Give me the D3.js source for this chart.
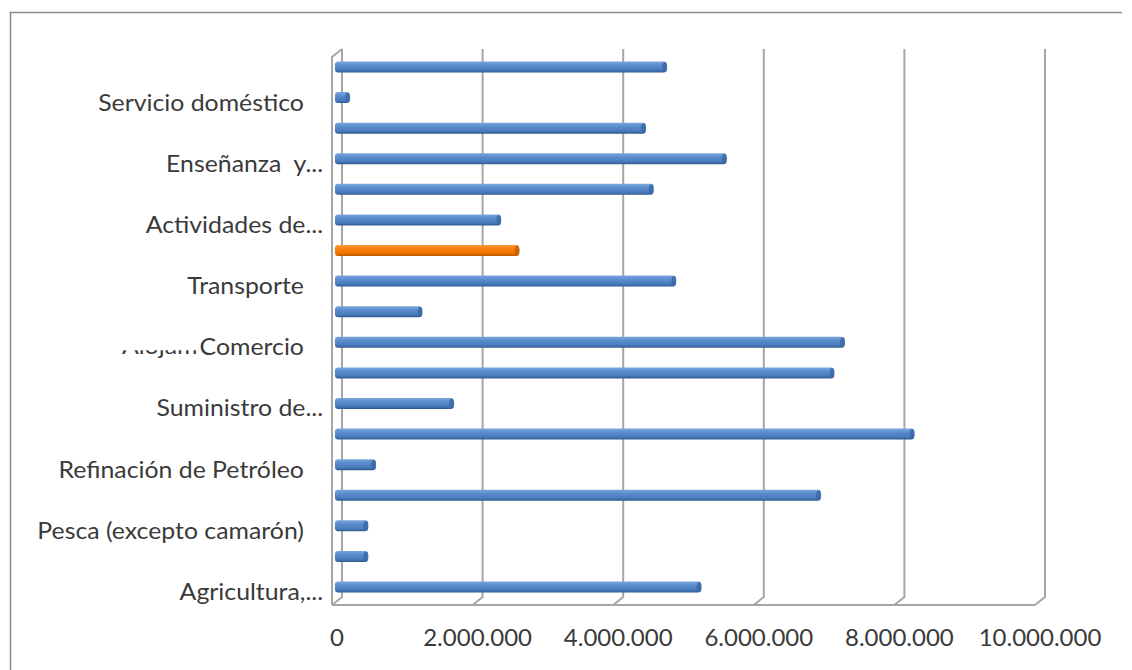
<!DOCTYPE html>
<html>
<head>
<meta charset="utf-8">
<script src="https://cdn.jsdelivr.net/npm/d3@7"></script>
<style>
body { margin: 0; background: #fff; }
text { font-family: Lato, sans-serif; fill: #3a3a3a; white-space: pre; }
</style>
</head>
<body>
<svg id="chart" width="1132" height="670"></svg>
<script>
// sectors, bottom to top (only every other one gets a visible label)
const categories = [
    "Agricultura,...", "Acuicultura y pesca de camarón", "Pesca (excepto camarón)   ",
    "Petróleo y minas", "Refinación de Petróleo   ", "Manufactura",
    "Suministro de...", "Construcción", "Comercio   ",
    "Alojamiento y servicios de comida", "Transporte   ", "Correo y Comunicaciones",
    "Actividades de...", "Actividades profesionales", "Enseñanza  y...",
    "Administración pública", "Servicio doméstico   ", "Otros servicios"
];
const values = [
    5180000, 440000, 440000,
    6880000, 550000, 8210000,
    1660000, 7070000, 7220000,
    1210000, 4820000, 2590000,
    2330000, 4500000, 5540000,
    4390000, 180000, 4690000
];
const highlighted = ["Correo y Comunicaciones"];
const tickValues = [0, 2000000, 4000000, 6000000, 8000000, 10000000];
const strayLabel = "Alojamiento y...";

const svg = d3.select("#chart");

const locale = d3.formatLocale({decimal: ",", thousands: ".", grouping: [3], currency: ["$", ""]});
const fmt = locale.format(",d");

// 3D box: back wall scale, front edge is shifted by depth
const depthX = -10, depthY = 8;
const xBack = d3.scaleLinear().domain([0, 10000000]).range([342, 1045]);
const xMid = d3.scaleLinear().domain([0, 10000000]).range([337, 1040]);
const y = d3.scaleBand()
    .domain(d3.range(categories.length))
    .range([602.3, 51.7]);
const wallTop = 49, floorBack = 597;

const defs = svg.append("defs");
function barGradient(id, c0, c1, c2, c3) {
    const g = defs.append("linearGradient").attr("id", id)
        .attr("x1", 0).attr("y1", 0).attr("x2", 0).attr("y2", 1);
    g.append("stop").attr("offset", "0%").attr("stop-color", c0);
    g.append("stop").attr("offset", "35%").attr("stop-color", c1);
    g.append("stop").attr("offset", "75%").attr("stop-color", c2);
    g.append("stop").attr("offset", "100%").attr("stop-color", c3);
}
barGradient("gBlue", "#7aa5dc", "#5a8cce", "#4a7cbd", "#2f5a8f");
barGradient("gOrange", "#ff9a3a", "#f97f12", "#ee7400", "#b65600");

// outer chart border (top and left edges are in view)
svg.append("path")
    .attr("d", "M10.5,680V12.5H1122")
    .attr("fill", "none")
    .attr("stroke", "#8c8c8c")
    .attr("stroke-width", 1.5);

const grid = svg.append("g")
    .attr("stroke", "#a6a6a6")
    .attr("stroke-width", 2)
    .attr("fill", "none");

// gridlines on the back wall, folding onto the floor
grid.selectAll("path.gridline")
    .data(tickValues)
    .enter()
    .append("path")
    .attr("class", "gridline")
    .attr("d", d => {
        const x = xBack(d);
        return `M${x},${wallTop}V${floorBack}L${x + depthX},${floorBack + depthY}`;
    });

// left wall front edge + top cap
grid.append("path")
    .attr("d", `M${xBack(0)},${wallTop}L${xBack(0) + depthX},${wallTop + depthY}V${floorBack + depthY}`);

// floor front edge
grid.append("path")
    .attr("d", `M${xBack(0) + depthX},${floorBack + depthY}H${xBack(10000000) + depthX}`);

// bars
const barH = 11;
const bars = svg.append("g").selectAll("g.bar")
    .data(values.map((v, i) => ({v, i, name: categories[i]})))
    .enter()
    .append("g")
    .attr("class", "bar");

bars.append("rect")
    .attr("x", xMid(0) - 2)
    .attr("y", d => y(d.i) + y.bandwidth() / 2 - barH / 2)
    .attr("width", d => xMid(d.v) - xMid(0) + 2)
    .attr("height", barH)
    .attr("rx", 3)
    .attr("fill", d => highlighted.includes(d.name) ? "url(#gOrange)" : "url(#gBlue)");

bars.append("ellipse")
    .attr("cx", d => xMid(d.v) - 2)
    .attr("cy", d => y(d.i) + y.bandwidth() / 2)
    .attr("rx", 2.5)
    .attr("ry", barH / 2 - 0.5)
    .attr("fill", d => highlighted.includes(d.name) ? "#c35f00" : "#3a68a3")
    .attr("opacity", 0.8);

// a label hidden behind "Comercio", only its lower edge shows
const comercioY = y(8) + y.bandwidth() / 2;
const labelScale = 1.08;
defs.append("clipPath").attr("id", "strayClip")
    .append("rect")
    .attr("x", 100).attr("y", comercioY + 8)
    .attr("width", 98).attr("height", 8);
svg.append("g")
    .attr("clip-path", "url(#strayClip)")
    .append("text")
    .attr("font-size", 23)
    .attr("transform", `translate(122,${comercioY + 12}) scale(${labelScale},1)`)
    .text(strayLabel);

// category labels (every other one)
svg.append("g").selectAll("text.cat")
    .data(categories.map((c, i) => ({c, i})).filter(d => d.i % 2 === 0))
    .enter()
    .append("text")
    .attr("class", "cat")
    .attr("text-anchor", "end")
    .attr("font-size", 23)
    .attr("transform", d => `translate(323,${y(d.i) + y.bandwidth() / 2 + 13}) scale(${labelScale},1)`)
    .text(d => d.c);

// value axis labels
svg.append("g").selectAll("text.tick")
    .data(tickValues)
    .enter()
    .append("text")
    .attr("class", "tick")
    .attr("text-anchor", "middle")
    .attr("font-family", "'Liberation Sans Narrow', sans-serif")
    .attr("font-size", 24)
    .attr("x", d => xMid(d))
    .attr("y", 646)
    .text(d => fmt(d));
</script>
</body>
</html>
